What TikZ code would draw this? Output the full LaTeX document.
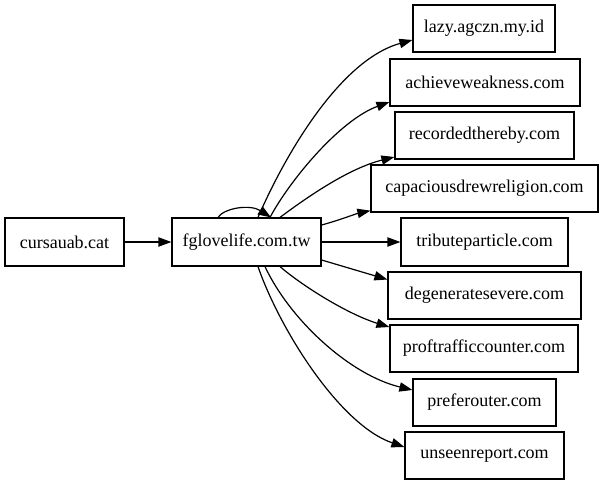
\documentclass[tikz,border=0pt]{standalone}
\usepackage{fontspec}
\setmainfont{Liberation Serif}
\usetikzlibrary{arrows.meta,calc}
\begin{document}
\begin{tikzpicture}[x=1pt,y=-1pt,
  box/.style={draw,line width=1.2pt,rectangle,inner sep=0pt,minimum height=47pt,font=\fontsize{18}{20}\selectfont},
  edge/.style={line width=1.2pt,-{Triangle[length=13pt,width=9.3pt]}}]
\useasboundingbox (0,0) rectangle (604,485);
\node[box,minimum width=119pt,minimum height=48pt] (cu) at (64.5,242) {cursauab.cat};
\node[box,minimum width=149pt,minimum height=48pt] (fg) at (246.5,242) {fglovelife.com.tw};
\node[box,minimum width=142pt] (la) at (484,28.5) {lazy.agczn.my.id};
\node[box,minimum width=190pt] (ac) at (485,82.5) {achieveweakness.com};
\node[box,minimum width=179pt] (re) at (484.5,135.5) {recordedthereby.com};
\node[box,minimum width=227pt] (ca) at (484.5,188.5) {capaciousdrewreligion.com};
\node[box,minimum width=167pt,minimum height=48pt] (tr) at (484.5,242) {tributeparticle.com};
\node[box,minimum width=193pt] (de) at (484.5,295.5) {degeneratesevere.com};
\node[box,minimum width=188pt] (pr) at (484,348.5) {proftrafficcounter.com};
\node[box,minimum width=143pt] (pf) at (484.5,402.5) {preferouter.com};
\node[box,minimum width=159pt] (un) at (484.5,455.5) {unseenreport.com};
\draw[edge] (cu.east) -- (fg.west);
\draw[edge] ($(fg.north)+(-28.5,0)$) .. controls (224,208) and (250,204) .. ($(fg.north)+(24.5,0)$);
\draw[edge] ($(fg.north)+(11.5,0)$) .. controls (285,155) and (340,60) .. ($(la.west)+(0,11.5)$);
\draw[edge] ($(fg.north)+(23.5,0)$) .. controls (290,180) and (340,120) .. ($(ac.west)+(0,19.5)$);
\draw[edge] ($(fg.north)+(33.5,0)$) .. controls (310,195) and (350,168) .. ($(re.west)+(0,21.5)$);
\draw[edge] ($(fg.east)+(0,-17)$) .. controls (340,220) and (355,214) .. ($(ca.south west)+(0,-2)$);
\draw[edge] (fg.east) -- (tr.west);
\draw[edge] ($(fg.east)+(0,18)$) -- ($(de.west)+(0,-16)$);
\draw[edge] ($(fg.south)+(33.5,0)$) .. controls (305,288) and (350,315) .. ($(pr.west)+(0,-21.5)$);
\draw[edge] ($(fg.south)+(18.5,0)$) .. controls (290,320) and (350,375) .. ($(pf.west)+(0,-12.5)$);
\draw[edge] ($(fg.south)+(11.5,0)$) .. controls (280,330) and (340,425) .. ($(un.west)+(0,-8.5)$);
\end{tikzpicture}
\end{document}
